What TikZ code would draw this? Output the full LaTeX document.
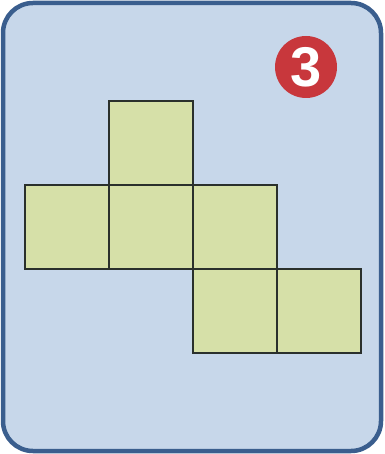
\documentclass[tikz,border=0pt]{standalone}
\usepackage{fontspec}
\setmainfont{Liberation Sans}
\definecolor{bgblue}{HTML}{C7D7EA}
\definecolor{frameblue}{HTML}{3A5E8E}
\definecolor{cellgreen}{HTML}{D6E0A8}
\definecolor{celledge}{HTML}{2A302C}
\definecolor{badgered}{HTML}{C8373C}
\begin{document}
\begin{tikzpicture}[x=1pt,y=-1pt,
  cell/.style={draw=celledge,fill=cellgreen,line width=2.6pt,minimum size=84pt,inner sep=0pt,outer sep=0pt,anchor=north west},
  badge/.style={circle,fill=badgered,minimum size=62pt,inner sep=0pt,text=white,font=\bfseries\fontsize{56}{56}\selectfont}]
\useasboundingbox (0,0) rectangle (384,454);
\draw[frameblue,fill=bgblue,line width=4.5pt,rounded corners=30pt] (3,3) rectangle (381,451);
\node[cell] (c1) at (109,101) {};
\node[cell] (c2) at (25,185) {};
\node[cell] (c3) at (109,185) {};
\node[cell] (c4) at (193,185) {};
\node[cell] (c5) at (193,269) {};
\node[cell] (c6) at (277,269) {};
\node[badge] (b) at (306,67) {3};
\end{tikzpicture}
\end{document}
